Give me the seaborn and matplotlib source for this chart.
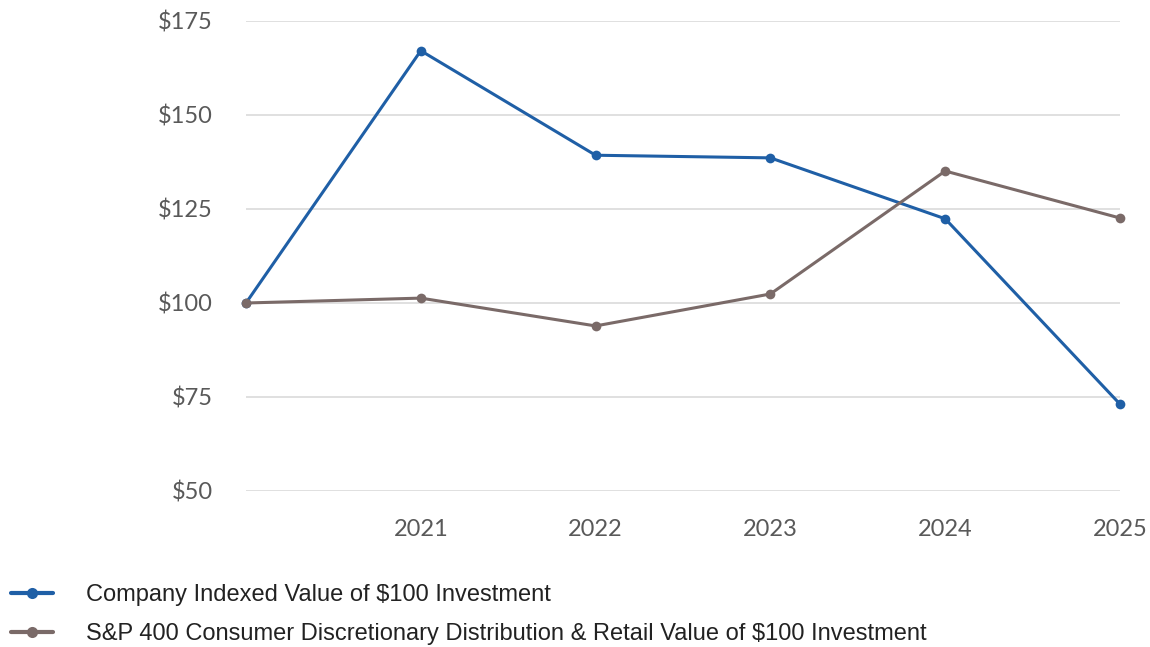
import matplotlib
matplotlib.use("Agg")
import matplotlib.pyplot as plt
import seaborn as sns
import pandas as pd

years = [2020, 2021, 2022, 2023, 2024, 2025]
company = [100, 167.1, 139.3, 138.6, 122.4, 73.1]
sp400 = [100, 101.3, 93.9, 102.4, 135.1, 122.6]
series_names = ["Company Indexed Value of $100 Investment",
                "S&P 400 Consumer Discretionary Distribution & Retail Value of $100 Investment"]
xtick_years = [2021, 2022, 2023, 2024, 2025]
yticks = [50, 75, 100, 125, 150, 175]
colors = ["#1F5FA6", "#7A6A68"]

df = pd.DataFrame({
    "year": years * 2,
    "value": company + sp400,
    "series": [series_names[0]] * len(years) + [series_names[1]] * len(years),
})

sns.set_theme(style="white")
fig = plt.figure(figsize=(11.5, 6.47), dpi=100)
ax = fig.add_axes([246/1150, 1 - 491/647, (1120-246)/1150, (491-21)/647])

sns.lineplot(data=df, x="year", y="value", hue="series", palette=colors,
             marker="o", markersize=7, markeredgewidth=0, linewidth=2.2,
             ax=ax, legend=False)

ax.set_xlim(2020, 2025)
ax.set_ylim(50, 175)
ax.set_xticks(xtick_years)
ax.set_xticklabels([str(y) for y in xtick_years])
ax.set_yticks(yticks)
ax.set_yticklabels([f"${v}" for v in yticks])
ax.set_xlabel("")
ax.set_ylabel("")
for s in ax.spines.values():
    s.set_visible(False)
ax.grid(axis="y", color="#DADADA", linewidth=1.2)
ax.set_axisbelow(True)
ax.tick_params(axis="both", length=0, labelsize=17, colors="#595959")
ax.tick_params(axis="y", pad=24)
ax.tick_params(axis="x", pad=20.5)
for lab in ax.get_xticklabels() + ax.get_yticklabels():
    lab.set_fontfamily(["Lato", "DejaVu Sans"])
for line in ax.lines:
    line.set_clip_on(False)

from matplotlib.lines import Line2D
handles = [Line2D([], [], color=c, marker="o", markersize=8, linewidth=3, markeredgewidth=0) for c in colors]
leg = fig.legend(handles, series_names, loc="upper left", bbox_to_anchor=(-0.009, 0.13),
                 frameon=False, handlelength=1.8, handletextpad=1.4, labelspacing=0.72,
                 prop={"family": ["Liberation Sans", "DejaVu Sans"], "size": 17})
for t in leg.get_texts():
    t.set_color("#222222")

fig.savefig("out.png", dpi=100)
